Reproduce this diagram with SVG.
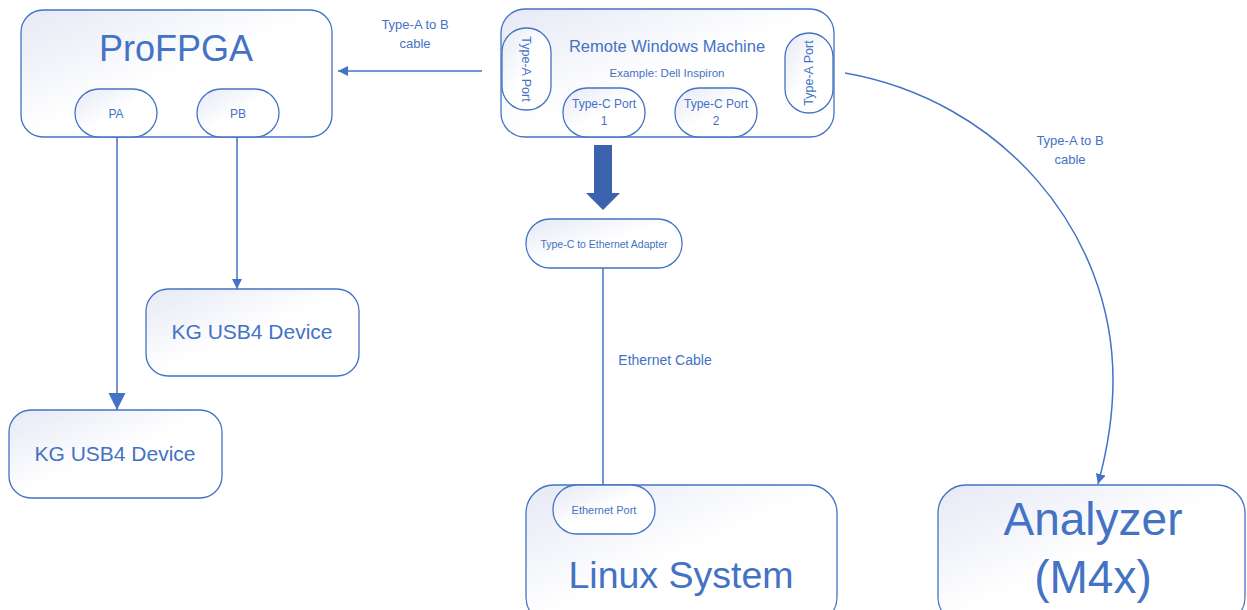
<svg xmlns="http://www.w3.org/2000/svg" width="1247" height="610" viewBox="0 0 1247 610">
<defs>
<linearGradient id="g" x1="0" y1="0" x2="1" y2="1">
<stop offset="0" stop-color="#e6e9f5"/>
<stop offset="0.5" stop-color="#ffffff"/>
<stop offset="1" stop-color="#ffffff"/>
</linearGradient>
<marker id="ah" viewBox="0 0 10 10" refX="10" refY="5" markerWidth="10" markerHeight="10" markerUnits="userSpaceOnUse" orient="auto">
<path d="M0,0 L10,5 L0,10 Z" fill="#4472c4"/>
</marker>
<marker id="ahb" viewBox="0 0 10 10" refX="10" refY="5" markerWidth="17" markerHeight="18" markerUnits="userSpaceOnUse" orient="auto">
<path d="M0,0 L10,5 L0,10 Z" fill="#4472c4"/>
</marker>
</defs>
<style>
.box{fill:url(#g);stroke:#4472c4;stroke-width:1.3}
.t{font-family:"Liberation Sans",Arial,sans-serif;fill:#4472c4;text-anchor:middle}
.c{fill:none;stroke:#4472c4;stroke-width:1.5}
</style>
<rect width="1247" height="610" fill="#ffffff"/>

<g id="connectors">
<line class="c" x1="482" y1="71" x2="338" y2="71" marker-end="url(#ah)"/>
<line class="c" x1="117" y1="137" x2="117" y2="410" marker-end="url(#ahb)"/>
<line class="c" x1="237" y1="137" x2="237" y2="289" marker-end="url(#ah)"/>
<line class="c" x1="603" y1="268" x2="603" y2="485"/>
<path class="c" d="M845,73 C1000,100 1113,230 1113,380 C1113,420 1106,455 1098,484" marker-end="url(#ah)"/>
<path d="M594,145 H612 V193 H620 L603,210 L586,193 H594 Z" fill="#3b63ad"/>
<text class="t" font-size="13"><tspan x="415" y="29">Type-A to B</tspan><tspan x="415" y="48">cable</tspan></text>
<text class="t" font-size="13"><tspan x="1070" y="145">Type-A to B</tspan><tspan x="1070" y="164">cable</tspan></text>
<text class="t" font-size="14" x="665" y="365">Ethernet Cable</text>
</g>

<g id="profpga">
<rect class="box" x="21" y="10" width="311" height="127" rx="22"/>
<text class="t" font-size="36" x="176" y="61">ProFPGA</text>
</g>
<g id="pa">
<rect class="box" x="75" y="89" width="82" height="48" rx="24"/>
<text class="t" font-size="12" x="116" y="118">PA</text>
</g>
<g id="pb">
<rect class="box" x="197" y="89" width="82" height="48" rx="24"/>
<text class="t" font-size="12" x="238" y="118">PB</text>
</g>

<g id="kg1">
<rect class="box" x="146" y="289" width="213" height="87" rx="22"/>
<text class="t" font-size="21" x="252" y="339">KG USB4 Device</text>
</g>
<g id="kg2">
<rect class="box" x="9" y="410" width="213" height="88" rx="22"/>
<text class="t" font-size="21" x="115" y="461">KG USB4 Device</text>
</g>

<g id="remote">
<rect class="box" x="501" y="9" width="333" height="128" rx="24"/>
<text class="t" font-size="16.5" x="667" y="52">Remote Windows Machine</text>
<text class="t" font-size="11.5" x="667" y="77">Example: Dell Inspiron</text>
</g>
<g id="typea-left">
<rect class="box" x="502" y="28" width="49" height="82" rx="24"/>
<text class="t" font-size="12.5" transform="translate(522,69) rotate(90)">Type-A Port</text>
</g>
<g id="typea-right">
<rect class="box" x="785" y="33" width="48" height="80" rx="24"/>
<text class="t" font-size="12.5" transform="translate(813,73) rotate(-90)">Type-A Port</text>
</g>
<g id="typec1">
<rect class="box" x="563" y="88" width="82" height="49" rx="24"/>
<text class="t" font-size="12"><tspan x="604" y="108">Type-C Port</tspan><tspan x="604" y="125">1</tspan></text>
</g>
<g id="typec2">
<rect class="box" x="675" y="88" width="82" height="49" rx="24"/>
<text class="t" font-size="12"><tspan x="716" y="108">Type-C Port</tspan><tspan x="716" y="125">2</tspan></text>
</g>

<g id="adapter">
<rect class="box" x="526" y="219" width="156" height="49" rx="24"/>
<text class="t" font-size="10.5" x="604" y="248">Type-C to Ethernet Adapter</text>
</g>

<g id="linux">
<rect class="box" x="526" y="485" width="311" height="140" rx="28"/>
<text class="t" font-size="37.5" x="681" y="588">Linux System</text>
</g>
<g id="ethport">
<rect class="box" x="553" y="485" width="102" height="49" rx="24"/>
<text class="t" font-size="11" x="604" y="514">Ethernet Port</text>
</g>

<g id="analyzer">
<rect class="box" x="938" y="485" width="307" height="140" rx="28"/>
<text class="t" font-size="46" x="1093" y="535">Analyzer</text>
<text class="t" font-size="46" x="1093" y="593">(M4x)</text>
</g>
</svg>
